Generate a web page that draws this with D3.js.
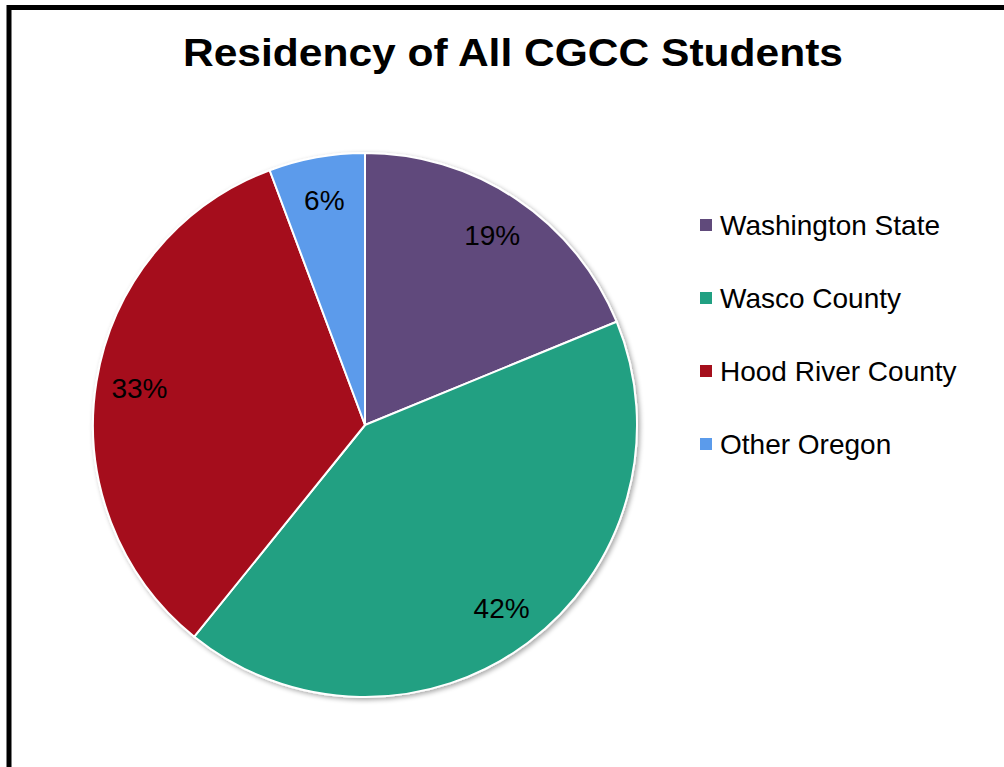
<!DOCTYPE html>
<html>
<head>
<meta charset="utf-8">
<script src="https://cdn.jsdelivr.net/npm/d3@7"></script>
<style>
  html, body { margin: 0; padding: 0; background: #fff; }
  svg { display: block; font-family: Arial, "Liberation Sans", sans-serif; }
</style>
</head>
<body>
<svg id="chart" width="1004" height="767"></svg>
<script>
const categories = ["Washington State", "Wasco County", "Hood River County", "Other Oregon"];
const values = [18.8, 42.0, 33.5, 5.7];
const labels = ["19%", "42%", "33%", "6%"];
const colors = ["#604A7B", "#21A082", "#A50F1C", "#5B9BEB"];
const title = "Residency of All CGCC Students";

const svg = d3.select("#chart");
const W = 1004, H = 767;

// frame
svg.append("rect").attr("x", 0).attr("y", 0).attr("width", W).attr("height", H).attr("fill", "#fff");
svg.append("path")
  .attr("d", `M9,${H + 5} L9,7.5 L${W + 5},7.5`)
  .attr("fill", "none").attr("stroke", "#000").attr("stroke-width", 5);

// title
svg.append("text")
  .attr("x", 513).attr("y", 66)
  .attr("text-anchor", "middle")
  .attr("font-size", 39).attr("font-weight", "bold")
  .attr("textLength", 660).attr("lengthAdjust", "spacingAndGlyphs")
  .attr("fill", "#000")
  .text(title);

// shadow filter
const defs = svg.append("defs");
const f = defs.append("filter").attr("id", "shadow").attr("x", "-10%").attr("y", "-10%").attr("width", "120%").attr("height", "120%");
f.append("feGaussianBlur").attr("in", "SourceAlpha").attr("stdDeviation", 2.5).attr("result", "blur");
f.append("feOffset").attr("in", "blur").attr("dx", 2).attr("dy", 2).attr("result", "off");
f.append("feComponentTransfer").attr("in", "off").attr("result", "sh")
  .append("feFuncA").attr("type", "linear").attr("slope", 0.35);
const m = f.append("feMerge");
m.append("feMergeNode").attr("in", "sh");
m.append("feMergeNode").attr("in", "SourceGraphic");

const cx = 365, cy = 425, R = 272;
const pie = d3.pie().sort(null).value(d => d);
const arcs = pie(values);
const arc = d3.arc().innerRadius(0).outerRadius(R);
const labelArc = d3.arc().innerRadius(R * 0.84).outerRadius(R * 0.84);

const g = svg.append("g").attr("transform", `translate(${cx},${cy})`);
g.append("g").attr("filter", "url(#shadow)")
  .selectAll("path").data(arcs).join("path")
  .attr("d", arc)
  .attr("fill", (d, i) => colors[i])
  .attr("stroke", "#fff").attr("stroke-width", 2).attr("stroke-linejoin", "round");

g.selectAll("text.lbl").data(arcs).join("text")
  .attr("class", "lbl")
  .attr("transform", d => `translate(${labelArc.centroid(d)})`)
  .attr("text-anchor", "middle")
  .attr("dy", "0.34em")
  .attr("font-size", 28)
  .attr("fill", "#000")
  .text((d, i) => labels[i]);

// legend
const legend = svg.append("g").attr("transform", "translate(700,225)");
const rowH = 73;
const items = legend.selectAll("g").data(categories).join("g")
  .attr("transform", (d, i) => `translate(0,${i * rowH})`);
items.append("rect").attr("x", 0).attr("y", -6).attr("width", 12).attr("height", 12)
  .attr("fill", (d, i) => colors[i]);
items.append("text").attr("x", 20).attr("y", 10)
  .attr("font-size", 28).attr("fill", "#000")
  .text(d => d);
</script>
</body>
</html>
